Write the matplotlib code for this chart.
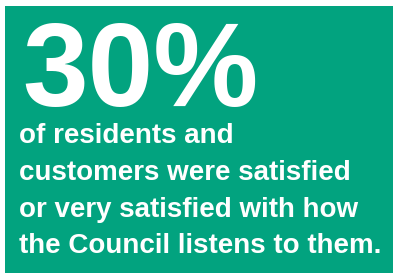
import matplotlib
matplotlib.use("Agg")
import matplotlib.pyplot as plt
from matplotlib.patches import Rectangle

W, H = 396, 273
DPI = 100

percent_value = 30
caption_lines = [
    "of residents and",
    "customers were satisfied",
    "or very satisfied with how",
    "the Council listens to them.",
]

green = "#02A37F"

fig = plt.figure(figsize=(W / DPI, H / DPI), dpi=DPI)
fig.patch.set_facecolor("white")

def fx(px):
    return px / W

def fy(py):
    return 1 - py / H

fig.patches.append(Rectangle((fx(5), fy(273)), fx(393) - fx(5), fy(6) - fy(273),
                             transform=fig.transFigure, facecolor=green,
                             edgecolor="none", zorder=0))

fig.text(fx(22), fy(106), f"{percent_value}%", color="white",
         family="Liberation Sans", weight="bold", fontsize=85,
         ha="left", va="baseline")

baselines = [143, 180, 217, 253]
for line, b in zip(caption_lines, baselines):
    fig.text(fx(19), fy(b), line, color="white", family="Liberation Sans",
             weight="bold", fontsize=20, ha="left", va="baseline")

fig.savefig("out.png", dpi=DPI)
